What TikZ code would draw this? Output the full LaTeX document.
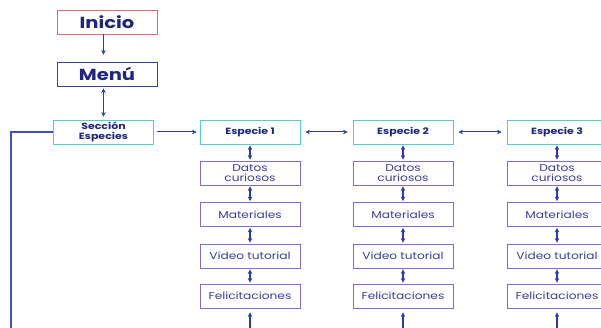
\documentclass[tikz,border=0pt]{standalone}
\usepackage{fontspec}
\setmainfont{Poppins}
\newfontfamily\ancha[FakeStretch=1.22]{Poppins}
\usetikzlibrary{positioning,arrows.meta}
\definecolor{rojo}{HTML}{E46A76}
\definecolor{marino}{HTML}{3B4195}
\definecolor{turquesa}{HTML}{4FD0CE}
\definecolor{lila}{HTML}{7B6DD8}
\definecolor{flecha}{HTML}{2E3BA6}
\definecolor{texto}{HTML}{1E2580}
\definecolor{textolila}{HTML}{3C3C9E}
\definecolor{linea}{HTML}{3F50BE}
\tikzset{
  caja/.style={draw,minimum width=100pt,minimum height=24pt,inner sep=1pt,
    align=center,line width=0.8pt},
  principal/.style={caja,text=texto,font=\ancha\bfseries\fontsize{16}{18}\selectfont},
  seccion/.style={caja,draw=turquesa,text=texto,font=\ancha\bfseries\fontsize{9}{9.5}\selectfont},
  pagina/.style={caja,draw=lila,text=textolila,font=\ancha\fontsize{10}{10}\selectfont},
  flechita/.style={draw=flecha,line width=1pt,-{Stealth[length=4.5pt,width=4.5pt]}},
  doble/.style={draw=flecha,line width=1pt,{Stealth[length=4.5pt,width=4.5pt]}-{Stealth[length=4.5pt,width=4.5pt]}},
  gruesa/.style={line width=1.6pt},
}
\begin{document}
\begin{tikzpicture}[x=1pt,y=-1pt]
\useasboundingbox (0,0) rectangle (601,328);
% menu principal
\node[principal,draw=rojo] (inicio) at (107,22) {Inicio};
\node[principal,draw=marino] (menu) at (107,74) {Menú};
\node[seccion] (seccion) at (103.5,132) {Sección\\Especies};
\draw[flechita,shorten >=7pt] (inicio.south -| seccion) -- (menu.north -| seccion);
\draw[doble,gruesa,shorten >=3pt,shorten <=2pt] (menu.south -| seccion) -- (seccion);
% columnas de especies
\foreach \n/\x in {1/250,2/403,3/557}{
  \node[seccion] (e\n) at (\x,132) {Especie \n};
  \node[pagina] (d\n) at (\x,173) {Datos\\curiosos};
  \node[pagina] (m\n) at (\x,214.5) {Materiales};
  \node[pagina] (v\n) at (\x,256) {Video tutorial};
  \node[pagina] (f\n) at (\x,296) {Felicitaciones};
  \coordinate (b\n) at (\x,330);
  \draw[doble,gruesa,shorten >=1pt,shorten <=1pt] (e\n) -- (d\n);
  \draw[doble,gruesa,shorten >=1pt,shorten <=1pt] (d\n) -- (m\n);
  \draw[doble,gruesa,shorten >=1pt,shorten <=1pt] (m\n) -- (v\n);
  \draw[doble,gruesa,shorten >=1pt,shorten <=1pt] (v\n) -- (f\n);
  \draw[flechita,gruesa,shorten >=4pt] (b\n) -- (f\n);
}
\draw[flechita,shorten <=3pt,shorten >=3pt] (seccion) -- (e1);
\draw[doble,shorten <=5pt,shorten >=5pt] (e1) -- (e2);
\draw[doble,shorten <=5pt,shorten >=5pt] (e2) -- (e3);
% linea de la izquierda
\coordinate (esquina) at (11,132);
\coordinate (abajo) at (11,330);
\draw[linea,line width=2pt] (seccion.west) -- (esquina) -- (abajo);
\end{tikzpicture}
\end{document}
